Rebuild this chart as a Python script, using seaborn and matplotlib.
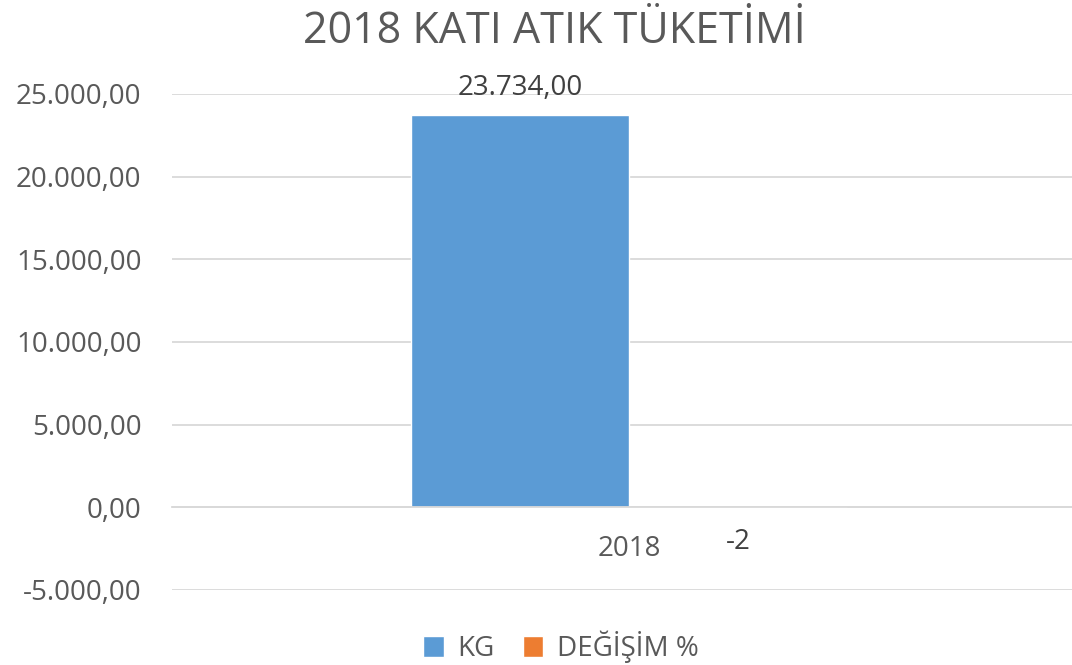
import matplotlib
matplotlib.use("Agg")
import matplotlib.pyplot as plt
import pandas as pd
import seaborn as sns

# data
years = ["2018"]
series = ["KG", "DEĞİŞİM %"]
kg_values = [23734.00]
change_values = [-2]
colors = ["#5B9BD5", "#ED7D31"]
y_ticks = [-5000, 0, 5000, 10000, 15000, 20000, 25000]

TEXT = "#595959"
GRID = "#D9D9D9"


def tr_number(v, decimals=2):
    s = f"{v:,.{decimals}f}"
    return s.replace(",", "X").replace(".", ",").replace("X", ".")


df = pd.DataFrame({
    "year": years * 2,
    "series": [series[0]] * len(years) + [series[1]] * len(years),
    "value": kg_values + change_values,
})

sns.set_theme(style="white")
plt.rcParams["font.family"] = ["Open Sans", "DejaVu Sans"]

fig = plt.figure(figsize=(10.72, 6.65), dpi=100)
ax = fig.add_axes([172 / 1072, 1 - 590 / 665, (1086 - 172) / 1072, (590 - 94) / 665])

sns.barplot(
    data=df, x="year", y="value", hue="series",
    palette=colors, width=0.477, saturation=1, ax=ax, legend=True,
)

ax.set_xlim(-0.5, 0.5)
ax.set_ylim(-5000, 25000)
ax.set_yticks(y_ticks)
ax.set_yticklabels([tr_number(t) for t in y_ticks], fontsize=20, color=TEXT)
ax.tick_params(axis="y", length=0, pad=22)
ax.yaxis.grid(True, color=GRID, linewidth=1.3)
ax.set_axisbelow(True)

# category axis sits at zero
for side in ["left", "right", "top"]:
    ax.spines[side].set_visible(False)
ax.spines["bottom"].set_position(("data", 0))
ax.spines["bottom"].set_color(GRID)
ax.spines["bottom"].set_linewidth(1.3)
ax.tick_params(axis="x", length=0, pad=20, labelsize=20, labelcolor=TEXT)
ax.set_xlabel("")
ax.set_ylabel("")

# data labels
ax.bar_label(ax.containers[0], labels=[tr_number(v) for v in kg_values],
             padding=9, fontsize=20, color="#404040")
ax.bar_label(ax.containers[1], labels=[str(v) for v in change_values],
             padding=15, fontsize=20, color="#404040")

fig.suptitle("2018 KATI ATIK TÜKETİMİ", x=554 / 1072, y=0.985, fontsize=31, color=TEXT)

leg = ax.legend(
    loc="center", bbox_to_anchor=(561 / 1072, 1 - 647 / 665), bbox_transform=fig.transFigure,
    ncol=2, frameon=False, fontsize=20, handlelength=0.75, handleheight=0.75,
    handletextpad=0.5, columnspacing=1.0,
)
for t in leg.get_texts():
    t.set_color(TEXT)

fig.savefig("out.png", dpi=100)
